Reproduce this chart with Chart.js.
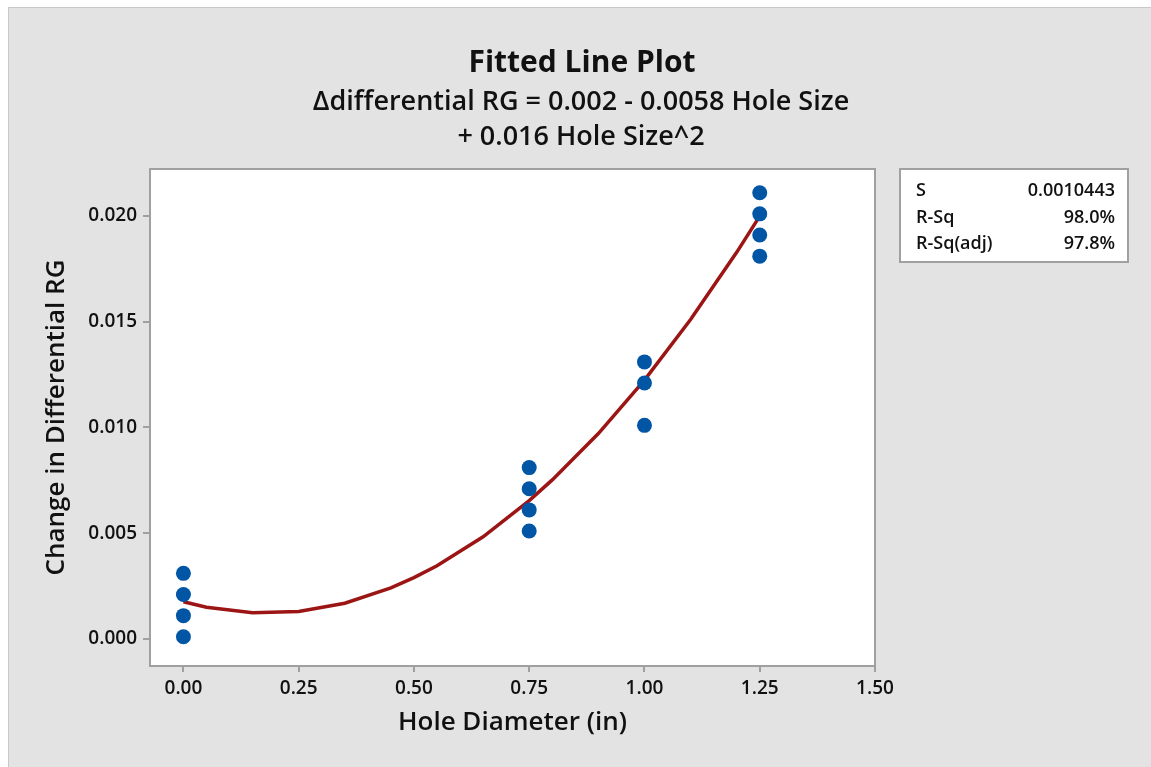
<!DOCTYPE html>
<html>
<head>
<meta charset="utf-8">
<script src="https://cdn.jsdelivr.net/npm/chart.js@4"></script>
<style>
  body { margin: 0; background: #fff; }
</style>
</head>
<body>
<canvas id="fitted_line_chart" width="1151" height="767"></canvas>
<script>
var hole_diameters = [0, 0, 0, 0, 0.75, 0.75, 0.75, 0.75, 1, 1, 1, 1.25, 1.25, 1.25, 1.25];
var rg_changes = [0.0031, 0.0021, 0.0011, 0.0001, 0.0081, 0.0071, 0.0061, 0.0051,
                  0.0131, 0.0121, 0.0101, 0.0211, 0.0201, 0.0191, 0.0181];

// fitted curve vertices as drawn
var fit_x = [0, 0.05, 0.15, 0.25, 0.35, 0.45, 0.5, 0.55, 0.65, 0.75, 0.8, 0.9, 1.0, 1.1, 1.2, 1.25];
var fit_y = [0.00176, 0.0015, 0.00124, 0.0013, 0.00169, 0.00241, 0.0029, 0.00346, 0.00483,
             0.00654, 0.00752, 0.00971, 0.01224, 0.0151, 0.01828, 0.01999];

var x_ticks = [0, 0.25, 0.5, 0.75, 1, 1.25, 1.5];
var y_ticks = [0, 0.005, 0.01, 0.015, 0.02];

var title_lines = ['Fitted Line Plot',
                   '\u0394differential RG = 0.002 - 0.0058 Hole Size',
                   '+ 0.016 Hole Size^2'];
var stats_labels = ['S', 'R-Sq', 'R-Sq(adj)'];
var stats_values = ['0.0010443', '98.0%', '97.8%'];

var font_family = "'Open Sans', 'Noto Sans', sans-serif";
var frame_color = '#a0a0a0';

var scatter_points = [];
for (let i = 0; i < hole_diameters.length; i++) {
    scatter_points.push({x: hole_diameters[i], y: rg_changes[i]});
}
var fit_points = [];
for (let i = 0; i < fit_x.length; i++) {
    fit_points.push({x: fit_x[i], y: fit_y[i]});
}

// gray backdrop, white plot area, titles and the stats box
const minitabLook = {
    id: 'minitabLook',
    beforeDraw(chart) {
        const ctx = chart.ctx;
        const a = chart.chartArea;
        ctx.save();
        ctx.fillStyle = '#ffffff';
        ctx.fillRect(0, 0, chart.width, chart.height);
        ctx.fillStyle = '#e3e3e3';
        ctx.fillRect(8, 7, chart.width - 8, chart.height - 7);
        ctx.strokeStyle = '#c8c8c8';
        ctx.lineWidth = 1;
        ctx.beginPath();
        ctx.moveTo(8.5, chart.height);
        ctx.lineTo(8.5, 7.5);
        ctx.lineTo(chart.width, 7.5);
        ctx.stroke();

        ctx.fillStyle = '#ffffff';
        ctx.fillRect(a.left, a.top, a.right - a.left, a.bottom - a.top);
        ctx.strokeStyle = frame_color;
        ctx.lineWidth = 2;
        ctx.strokeRect(a.left, a.top, a.right - a.left, a.bottom - a.top);

        // titles
        ctx.fillStyle = '#111111';
        ctx.textAlign = 'center';
        ctx.textBaseline = 'alphabetic';
        ctx.font = '700 30px ' + font_family;
        ctx.fillText(title_lines[0], 582, 72);
        ctx.font = '600 27px ' + font_family;
        ctx.fillText(title_lines[1], 581, 110);
        ctx.fillText(title_lines[2], 581, 145);

        // stats box
        const bx = 900, by = 169, bw = 228, bh = 93;
        ctx.fillStyle = '#ffffff';
        ctx.fillRect(bx, by, bw, bh);
        ctx.strokeStyle = frame_color;
        ctx.lineWidth = 2;
        ctx.strokeRect(bx, by, bw, bh);
        ctx.font = '600 18px ' + font_family;
        ctx.fillStyle = '#111111';
        ctx.textBaseline = 'middle';
        for (let i = 0; i < stats_labels.length; i++) {
            const ty = by + 22 + i * 26.5;
            ctx.textAlign = 'left';
            ctx.fillText(stats_labels[i], bx + 16, ty);
            ctx.textAlign = 'right';
            ctx.fillText(stats_values[i], bx + bw - 13, ty);
        }
        ctx.restore();
    }
};

const config = {
    type: 'scatter',
    data: {
        datasets: [
            {
                label: 'Observed',
                data: scatter_points,
                backgroundColor: '#0055a5',
                borderWidth: 0,
                pointRadius: 7.5,
                order: 1
            },
            {
                type: 'line',
                label: 'Fit',
                data: fit_points,
                borderColor: '#9c1515',
                borderWidth: 3.5,
                pointRadius: 0,
                tension: 0,
                fill: false,
                order: 2
            }
        ]
    },
    options: {
        responsive: false,
        animation: false,
        layout: {
            padding: {left: 20, top: 169, right: 276, bottom: 20}
        },
        plugins: {
            legend: {display: false},
            tooltip: {enabled: false},
            title: {display: false}
        },
        scales: {
            x: {
                type: 'linear',
                min: -0.0725,
                max: 1.5,
                afterFit: function (scale) { scale.height = 81; },
                afterBuildTicks: function (scale) {
                    scale.ticks = x_ticks.map(v => ({value: v}));
                },
                border: {display: false},
                grid: {
                    drawOnChartArea: false,
                    drawTicks: true,
                    tickLength: 6,
                    color: frame_color,
                    lineWidth: 2
                },
                ticks: {
                    padding: 5,
                    color: '#111111',
                    font: {family: font_family, size: 19, weight: '600'},
                    callback: v => v.toFixed(2)
                },
                title: {
                    display: true,
                    text: 'Hole Diameter (in)',
                    color: '#111111',
                    font: {family: font_family, size: 26, weight: '600'},
                    padding: {top: 0, bottom: 9}
                }
            },
            y: {
                type: 'linear',
                min: -0.00128,
                max: 0.02222,
                afterFit: function (scale) { scale.width = 130; },
                afterBuildTicks: function (scale) {
                    scale.ticks = y_ticks.map(v => ({value: v}));
                },
                border: {display: false},
                grid: {
                    drawOnChartArea: false,
                    drawTicks: true,
                    tickLength: 7,
                    color: frame_color,
                    lineWidth: 2
                },
                ticks: {
                    padding: 6,
                    color: '#111111',
                    font: {family: font_family, size: 19, weight: '600'},
                    callback: v => v.toFixed(3)
                },
                title: {
                    display: true,
                    text: 'Change in Differential RG',
                    color: '#111111',
                    font: {family: font_family, size: 26, weight: '600'},
                    padding: {top: 21, bottom: 0}
                }
            }
        }
    },
    plugins: [minitabLook]
};

const myChart = new Chart(document.getElementById('fitted_line_chart'), config);
</script>
</body>
</html>
